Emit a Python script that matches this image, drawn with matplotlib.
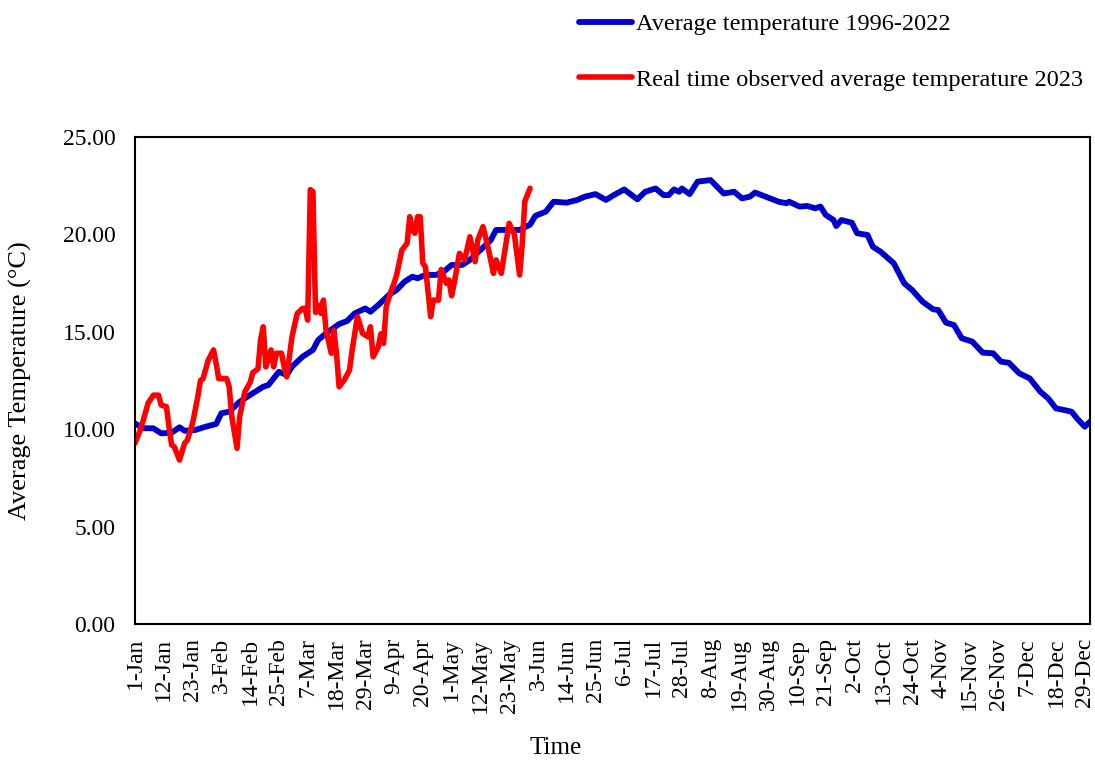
import datetime as dt
import matplotlib
matplotlib.use("Agg")
import matplotlib.pyplot as plt

# long-term mean (day of year, degC)
avg_days = [1, 4, 8, 11, 15, 18, 20, 24, 28, 32, 34, 37, 41, 45, 50, 52, 56, 59, 61, 65,
            69, 71, 74, 79, 82, 85, 89, 91, 94, 98, 101, 104, 107, 109, 112, 116, 119, 122,
            126, 129, 133, 137, 139, 144, 148, 152, 154, 158, 161, 166, 170, 173, 177, 181,
            184, 188, 193, 196, 200, 203, 205, 207, 209, 210, 213, 216, 221, 226, 230, 233,
            236, 238, 242, 247, 250, 251, 255, 258, 261, 263, 265, 268, 269, 271, 275, 277,
            281, 283, 286, 291, 295, 298, 302, 306, 308, 311, 314, 317, 321, 325, 329, 332,
            335, 339, 343, 347, 350, 353, 356, 359, 361, 364, 366]
avg_temp = [10.3, 10.05, 10.05, 9.79, 9.82, 10.1, 9.92, 9.96, 10.13, 10.27, 10.82, 10.9,
            11.41, 11.76, 12.18, 12.27, 12.95, 12.78, 13.21, 13.72, 14.07, 14.58, 14.92,
            15.4, 15.55, 15.95, 16.2, 16.03, 16.38, 16.89, 17.15, 17.57, 17.83, 17.75, 17.92,
            17.92, 18.09, 18.43, 18.43, 18.69, 19.2, 19.71, 20.23, 20.23, 20.23, 20.5, 20.95,
            21.17, 21.68, 21.63, 21.77, 21.94, 22.07, 21.77, 22.02, 22.31, 21.8, 22.19, 22.36,
            22.02, 22.02, 22.31, 22.19, 22.36, 22.07, 22.71, 22.79, 22.1, 22.19, 21.85, 21.94,
            22.15, 21.94, 21.68, 21.6, 21.68, 21.43, 21.46, 21.34, 21.43, 21.0, 20.74, 20.43,
            20.74, 20.6, 20.06, 19.97, 19.37, 19.11, 18.52, 17.49, 17.15, 16.55, 16.16, 16.12,
            15.47, 15.35, 14.67, 14.5, 13.93, 13.9, 13.47, 13.41, 12.87, 12.61, 11.93, 11.59,
            11.07, 10.99, 10.9, 10.56, 10.13, 10.39]

# observed 2023
obs_days = [1, 3, 4, 6, 8, 10, 11, 13, 14, 15, 16, 18, 20, 21, 23, 25, 26, 27, 29, 31, 32,
            33, 36, 37, 38, 40, 41, 43, 45, 46, 48, 49, 50, 51, 53, 54, 55, 57, 58, 59, 61,
            63, 65, 66, 67, 68, 69, 70, 71, 72, 73, 74, 76, 77, 78, 79, 81, 83, 84, 86, 88,
            90, 91, 92, 94, 95, 96, 97, 99, 100, 101, 103, 105, 106, 107, 108, 109, 110, 111,
            112, 114, 115, 117, 118, 120, 121, 122, 123, 125, 127, 129, 131, 132, 134, 136,
            138, 139, 141, 142, 144, 146, 148, 149, 150, 152]
obs_temp = [9.29, 9.96, 10.39, 11.34, 11.75, 11.75, 11.24, 11.16, 10.13, 9.19, 9.1, 8.42,
            9.29, 9.44, 10.3, 11.67, 12.5, 12.6, 13.55, 14.07, 13.38, 12.6, 12.6, 12.18, 10.64,
            9.02, 10.64, 11.93, 12.4, 12.9, 13.1, 14.6, 15.26, 13.2, 14.07, 13.2, 13.9, 13.9,
            13.2, 12.69, 14.75, 15.94, 16.2, 16.2, 15.6, 22.3, 22.2, 16.0, 16.38, 15.95, 16.63,
            15.09, 13.9, 15.09, 13.9, 12.18, 12.53, 13.04, 14.07, 15.78, 14.92, 14.75, 15.26,
            13.72, 14.23, 14.9, 14.41, 16.29, 17.15, 17.49, 17.92, 19.2, 19.54, 20.91, 20.23,
            20.06, 20.91, 20.91, 18.52, 18.34, 15.78, 16.63, 16.63, 18.2, 17.49, 17.66, 16.85,
            17.49, 19.03, 18.69, 19.88, 18.6, 19.71, 20.4, 19.3, 18.0, 18.69, 18.0, 18.86,
            20.57, 20.0, 17.92, 19.5, 21.7, 22.37]

tick_days = list(range(1, 367, 11))
base = dt.date(2024, 1, 1)
tick_labels = []
for d in tick_days:
    day = base + dt.timedelta(days=d - 1)
    tick_labels.append(f"{day.day}-{day.strftime('%b')}")

plt.rcParams['font.family'] = ['Liberation Serif', 'DejaVu Serif']

fig = plt.figure(figsize=(10.95, 7.6), dpi=100)
ax = fig.add_axes([0.1233, 0.1789, 0.8721, 0.6408])

l1, = ax.plot(avg_days, avg_temp, color='#0000CC', lw=4.2, solid_capstyle='round',
              solid_joinstyle='round', label='Average temperature 1996-2022')
l2, = ax.plot(obs_days, obs_temp, color='#FF0000', lw=4.0, solid_capstyle='round',
              solid_joinstyle='round', label='Real time observed average temperature 2023')

ax.set_xlim(1, 366)
ax.set_ylim(0, 25)
ax.set_yticks([0, 5, 10, 15, 20, 25])
ax.set_yticklabels([f"{v:.2f}" for v in [0, 5, 10, 15, 20, 25]], fontsize=17)
ax.set_xticks(tick_days)
ax.set_xticklabels(tick_labels, rotation=90, fontsize=17)
ax.tick_params(length=0)
ax.tick_params(axis='x', pad=10)
ax.tick_params(axis='y', pad=14)
for s in ax.spines.values():
    s.set_linewidth(1.5)

ax.set_xlabel('Time', fontsize=18)
ax.xaxis.set_label_coords(0.44, -0.232)
ax.set_ylabel('Average Temperature (°C)', fontsize=19)
ax.yaxis.set_label_coords(-0.108, 0.5)

fig.legend(handles=[l1, l2], loc='upper left', bbox_to_anchor=(0.513, 1.005),
           frameon=False, fontsize=17.5, handlelength=2.2, handletextpad=0.15,
           labelspacing=1.38, borderaxespad=0.3)

fig.savefig('out.png', dpi=100)
